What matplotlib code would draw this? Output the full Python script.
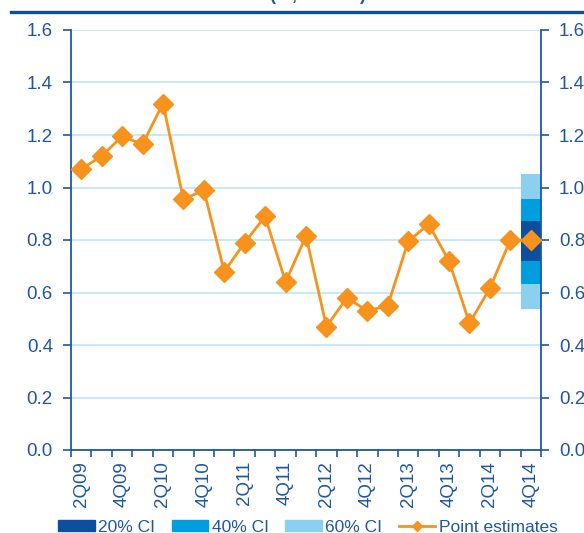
import matplotlib
matplotlib.use("Agg")
import matplotlib.pyplot as plt
from matplotlib.patches import Patch
from matplotlib.lines import Line2D

plt.rcParams["font.family"] = ["Liberation Sans", "DejaVu Sans"]

quarters = ["2Q09", "3Q09", "4Q09", "1Q10", "2Q10", "3Q10", "4Q10", "1Q11",
            "2Q11", "3Q11", "4Q11", "1Q12", "2Q12", "3Q12", "4Q12", "1Q13",
            "2Q13", "3Q13", "4Q13", "1Q14", "2Q14", "3Q14", "4Q14"]
point_estimates = [1.07, 1.12, 1.195, 1.165, 1.32, 0.955, 0.99, 0.68,
                   0.79, 0.89, 0.64, 0.815, 0.47, 0.58, 0.53, 0.55,
                   0.795, 0.86, 0.72, 0.483, 0.617, 0.80, 0.80]
# confidence bands for the last quarter: (low, high)
ci_60 = (0.537, 1.051)
ci_40 = (0.632, 0.956)
ci_20 = (0.721, 0.872)

BLUE_TXT = "#1F57A4"
DARK = "#0B4F9E"
MID = "#009DDF"
LIGHT = "#8CCFF0"
ORANGE = "#F7931D"
GRID = "#BDE6F7"

fig = plt.figure(figsize=(5.84, 5.33), dpi=100)
ax = fig.add_axes([71 / 584, 1 - 450 / 533, 470 / 584, 420 / 533])

x = list(range(len(quarters)))
last = x[-1]
for (lo, hi), col in [(ci_60, LIGHT), (ci_40, MID), (ci_20, DARK)]:
    ax.bar(last, hi - lo, bottom=lo, width=1.0, color=col, zorder=2)

ax.plot(x, point_estimates, color=ORANGE, lw=2.0, marker="D", ms=10,
        zorder=3, clip_on=False)

ax.set_xlim(-0.5, len(quarters) - 0.5)
ax.set_ylim(0, 1.6)
ax.set_yticks([i * 0.2 for i in range(9)])
ax.set_yticklabels([f"{i * 0.2:.1f}" for i in range(9)])
ax.yaxis.grid(True, color=GRID, lw=1.2, zorder=0)
ax.set_axisbelow(True)

ax.set_xticks(x[::2])
ax.set_xticklabels(quarters[::2], rotation=90)
ax.set_xticks([i - 0.5 for i in range(len(quarters) + 1)], minor=True)
ax.tick_params(axis="x", which="major", length=0, pad=8, labelsize=13.5,
               labelcolor=BLUE_TXT)
ax.tick_params(axis="x", which="minor", length=5, width=1.2, color=BLUE_TXT,
               direction="out")
ax.tick_params(axis="y", which="both", length=6, width=1.2, color=BLUE_TXT,
               labelsize=13.5, labelcolor=BLUE_TXT, left=True, right=True,
               labelleft=True, labelright=True, pad=7)

for s in ["left", "right", "bottom"]:
    ax.spines[s].set_color(BLUE_TXT)
    ax.spines[s].set_linewidth(1.3)
ax.spines["top"].set_visible(False)

# top rule and the title, cut off by the top edge as in the source
fig.add_artist(Line2D([11 / 584, 1], [1 - 12 / 533] * 2, color=DARK, lw=2.4))
fig.text(318 / 584, 1 + 0.5 / 533, "(%, annual)", ha="center", va="baseline",
         fontsize=13, fontweight="bold", color=BLUE_TXT)

handles = [Patch(color=DARK, label="20% CI"),
           Patch(color=MID, label="40% CI"),
           Patch(color=LIGHT, label="60% CI"),
           Line2D([], [], color=ORANGE, lw=2.0, marker="D", ms=5,
                  label="Point estimates")]
leg = fig.legend(handles=handles, loc="center", ncol=4,
                 bbox_to_anchor=(308 / 584, 1 - 527 / 533), frameon=False,
                 fontsize=12.5, handlelength=2.1, handleheight=0.6,
                 handletextpad=0.2, columnspacing=0.95, borderaxespad=0)
for t in leg.get_texts():
    t.set_color(BLUE_TXT)

fig.savefig("out.png", dpi=100)
